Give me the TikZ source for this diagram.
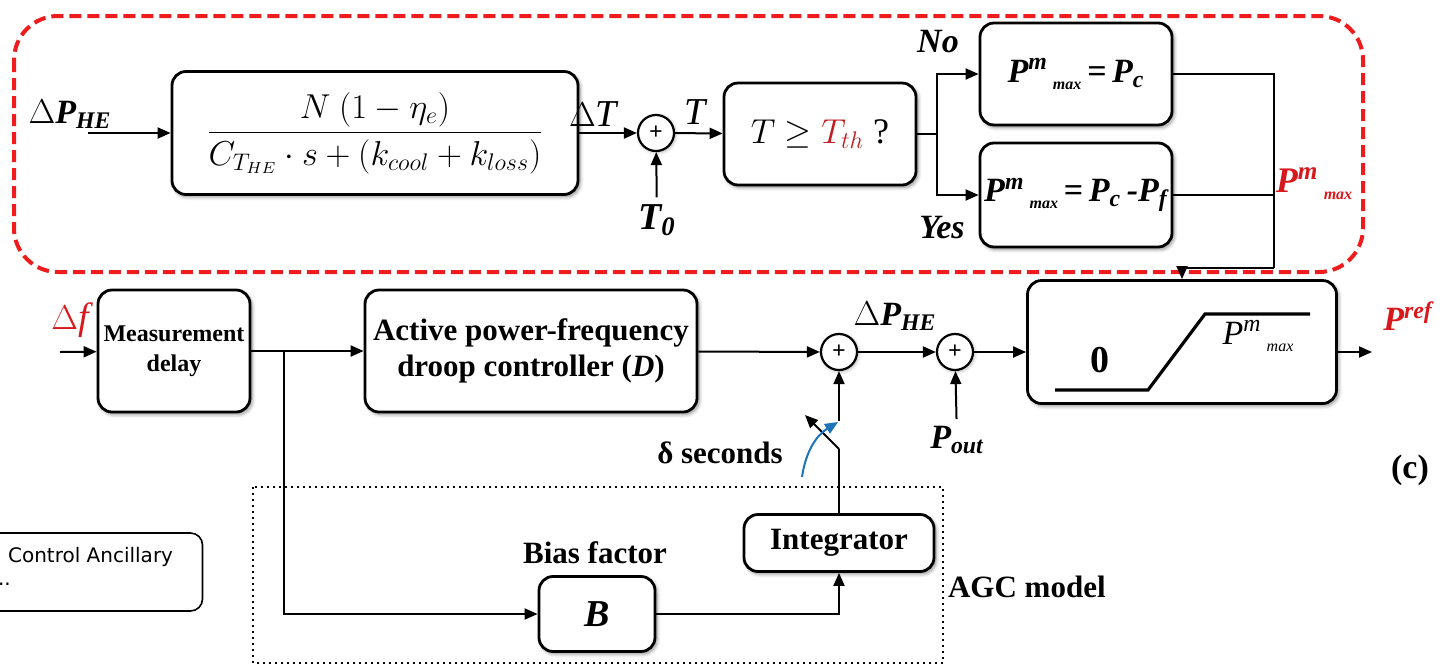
\documentclass[tikz,border=0pt]{standalone}
\usepackage{fontspec}
\setmainfont{Liberation Serif}
\setsansfont{DejaVu Sans}
\usepackage{amsmath}
\usetikzlibrary{arrows.meta, shadows.blur}
\definecolor{framered}{RGB}{238,28,28}
\definecolor{labelred}{RGB}{215,25,30}
\definecolor{thred}{RGB}{192,30,35}
\definecolor{arcblue}{RGB}{30,115,185}
\newcommand{\Pmx}{P\textsuperscript{m}\kern0.15em\raisebox{-0.45ex}{\fontsize{8}{8}\selectfont max}}
\tikzset{
    > = {Triangle[length=6.5pt, width=5.5pt]},
    block/.style = {draw, line width=1.4pt, rounded corners=7pt, fill=white, align=center, inner sep=2pt,
        blur shadow={shadow xshift=1pt, shadow yshift=-1.2pt, shadow blur steps=6, shadow opacity=45}},
    summer/.style = {draw, circle, line width=1.1pt, minimum size=18pt, inner sep=0pt, fill=white,
        font=\bfseries\fontsize{12}{12}\selectfont,
        blur shadow={shadow xshift=0.6pt, shadow yshift=-0.6pt, shadow blur steps=4, shadow opacity=35}},
    wire/.style = {line width=1pt},
    bflab/.style = {font=\bfseries\fontsize{15.5}{18}\selectfont},
    bilab/.style = {font=\bfseries\itshape\fontsize{17}{20}\selectfont}
}

\begin{document}
\begin{tikzpicture}[x=0.5pt, y=-0.5pt]
    \useasboundingbox (0, 0) rectangle (1446, 671);

    % thermal part
    \draw[framered, line width=2pt, dash pattern=on 6pt off 3pt, rounded corners=22pt]
        (14, 16) rectangle (1363, 272);

    \node[bilab] (dphe) at (70, 114) {$\Delta$P\textsubscript{HE}};
    \coordinate (inhe) at (88, 133);
    \node[block, minimum width=203pt, minimum height=61.5pt] (tf) at (375, 133)
        {\fontsize{17}{20}\selectfont $\dfrac{N\ (1-\eta_e)}{C_{T_{HE}}\cdot s+(k_{cool}+k_{loss})}$};
    \node[summer] (sum1) at (656, 133) {+};
    \node[font=\itshape\fontsize{19}{20}\selectfont] (dt) at (593, 114) {$\Delta$T};
    \node[font=\itshape\fontsize{19}{20}\selectfont] (tl) at (695, 112) {T};
    \node[font=\bfseries\itshape\fontsize{19}{20}\selectfont] (t0) at (657, 220) {T\textsubscript{0}};
    \node[block, minimum width=96pt, minimum height=51pt] (dec) at (820, 134)
        {\fontsize{18}{20}\selectfont $T \geq {\color{thred}T_{th}}$ ?};
    \coordinate (split) at (937, 134);
    \node[block, minimum width=96pt, minimum height=51pt, font=\bfseries\itshape\fontsize{17}{18}\selectfont] (nobox) at (1076, 74)
        {\Pmx\,=\,P\textsubscript{c}};
    \node[block, minimum width=96pt, minimum height=52pt, font=\bfseries\itshape\fontsize{17}{18}\selectfont] (yesbox) at (1076, 195)
        {\Pmx\,=\,P\textsubscript{c}\,-P\textsubscript{f}};
    \node[bilab] (nol) at (938, 42) {No};
    \node[bilab] (yesl) at (942, 228) {Yes};
    \coordinate (mrg) at (1274, 268);
    \node[labelred, font=\bfseries\itshape\fontsize{18}{20}\selectfont] (pmr) at (1314, 184) {\Pmx};

    \draw[wire, ->] (inhe) -- (tf);
    \draw[wire, ->] (tf) -- (sum1);
    \draw[wire, ->] (t0) -- (sum1);
    \draw[wire, ->] (sum1) -- (dec);
    \draw[wire] (dec) -- (split);
    \draw[wire, ->] (split) |- (nobox);
    \draw[wire, ->] (split) |- (yesbox);
    \draw[line width=0.8pt] (nobox) -| (mrg);
    \draw[line width=0.8pt] (yesbox) -- (yesbox -| mrg);

    % main loop
    \node[font=\itshape\fontsize{19}{20}\selectfont, labelred] (dfl) at (70, 320) {$\Delta$f};
    \coordinate (inf) at (60, 352);
    \node[block, minimum width=76pt, minimum height=61pt, font=\bfseries\fontsize{12}{15}\selectfont] (meas) at (174, 351)
        {Measurement\\delay};
    \coordinate (br) at (284, 352);
    \node[block, minimum width=166pt, minimum height=61pt, bflab] (apf) at (531, 351)
        {Active power-frequency\\droop controller (\textit{D})};
    \node[summer] (sum2) at (839, 352) {+};
    \node[summer] (sum3) at (955, 352) {+};
    \node[bilab] (dphe2) at (895, 316) {$\Delta$P\textsubscript{HE}};
    \node[bilab] (pout) at (957, 440) {P\textsubscript{out}};
    \node[block, minimum width=154.5pt, minimum height=61.5pt] (sat) at (1182, 342) {};
    \draw[line width=1.6pt] (1055, 390) -- (1148, 390) -- (1205, 314) -- (1310, 314);
    \node[font=\bfseries\fontsize{19}{20}\selectfont] (zero) at (1100, 360) {0};
    \node[font=\itshape\fontsize{17}{20}\selectfont] (pms) at (1258, 336) {\Pmx};
    \coordinate (outp) at (1372, 352);
    \node[bilab, labelred] (pref) at (1408, 316) {P\textsuperscript{ref}};
    \node[font=\bfseries\fontsize{17}{20}\selectfont] (cl) at (1410, 470) {(c)};

    \draw[wire, ->] (inf) -- (meas);
    \draw[wire, ->] (meas) -- (apf);
    \draw[wire, ->] (apf) -- (sum2);
    \draw[wire, ->] (sum2) -- (sum3);
    \draw[wire, ->] (sum3) -- (sum3 -| sat.west);
    \draw[wire, ->] (pout) -- (sum3);
    \draw[wire, ->] (sat.east |- outp) -- (outp);
    \draw[wire, ->] (mrg) -| (sat.north);

    % switch
    \coordinate (swtop) at (839, 421);
    \coordinate (swpiv) at (839, 449);
    \coordinate (swend) at (805, 415);
    \coordinate (arcs) at (802, 477);
    \coordinate (arce) at (838, 422);
    \node[bflab] (dsec) at (720, 453) {δ seconds};
    \draw[wire, ->] (swtop) -- (sum2);
    \draw[wire, ->] (swpiv) -- (swend);
    \draw[arcblue, line width=1pt, ->] (arcs) to[bend left=25] (arce);

    % AGC model
    \draw[line width=1pt, dotted] (253, 487) rectangle (943, 663);
    \node[block, minimum width=95pt, minimum height=28.5pt, bflab] (integ) at (839, 543) {Integrator};
    \node[block, minimum width=58pt, minimum height=37.5pt, font=\bfseries\itshape\fontsize{19}{20}\selectfont] (bias) at (597, 614) {B};
    \node[bflab] (biasl) at (595, 553) {Bias factor};
    \node[bflab, anchor=west] (agcl) at (941, 587) {AGC model};

    \draw[wire] (integ) -- (swpiv);
    \draw[wire, ->] (br) |- (bias);
    \draw[wire, ->] (bias) -| (integ);

    % cut box at the left
    \node[draw, line width=0.8pt, rounded corners=6pt, minimum width=116.5pt, minimum height=39pt] (cabox) at (86, 572) {};
    \node[anchor=west, font=\sffamily\fontsize{10}{12}\selectfont] (catxt) at (1, 557) {Control Ancillary};
    \node[anchor=west, font=\sffamily\fontsize{10}{12}\selectfont] (cadots) at (-9, 584) {..};
\end{tikzpicture}
\end{document}
